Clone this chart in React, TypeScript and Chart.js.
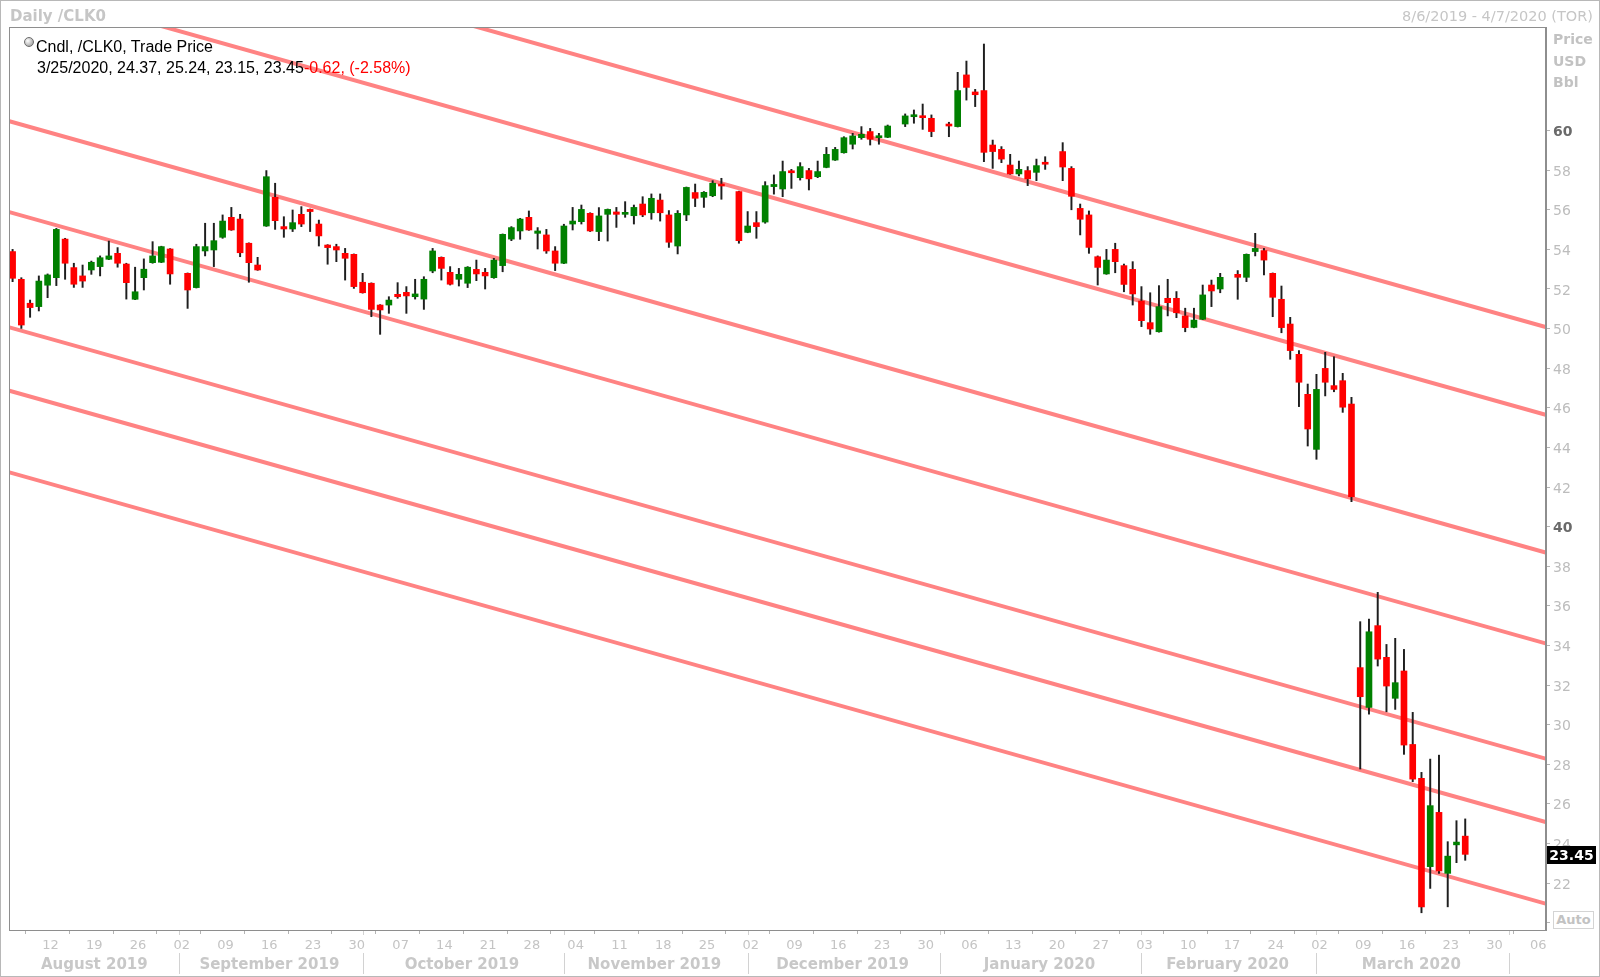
import React, { useEffect, useRef } from "react";
import { Chart, registerables } from "chart.js";

Chart.register(...registerables);

// Weekday slots counted from Tue 6 Aug 2019 (slot 0). null = exchange holiday.
const opens: (number | null)[] = [
  53.89, 52.49, 51.28, 51.11, 52.19, 52.57, 54.52, 53.08, 52.66, 52.96,
  53.13, 53.5, 53.8, 53.26, 51.48, 52.57, 53.33, 53.35, 54.02, null,
  52.79, 52.07, 53.92, 53.97, 54.61, 55.62, 55.53, 54.31, 53.21, 55.18,
  56.63, 55.15, 55.03, 55.77, 56.02, 55.28, 54.22, 54.14, 53.8, 53.75,
  52.34, 52.29, 51.19, 51.19, 51.73, 51.83, 51.61, 51.49, 52.91, 53.6,
  52.84, 52.49, 52.29, 52.99, 52.84, 52.57, 53.18, 54.52, 54.93, 55.62,
  54.81, 54.73, 53.92, 53.3, 55.28, 55.4, 55.82, 54.9, 55.77, 55.89,
  55.77, 55.7, 56.29, 55.85, 56.49, 55.74, 54.17, 55.74, 56.87, 56.63,
  56.71, 57.25, null, 56.92, 54.86, 55.35, 55.38, 57.17, 57.05, 57.94,
  57.62, 57.98, 57.67, 58.14, 58.51, 58.88, 59.31, 59.64, 59.95, 59.64,
  59.66, null, 60.33, 60.7, 60.69, 60.62, null, 60.32, 60.2, 62.81,
  61.95, 62.02, 59.27, 59.05, 58.26, 57.81, 57.98, 57.89, 58.4, null,
  58.94, 58.09, 56.07, 55.74, 53.63, 52.76, 54.0, 53.18, 52.99, 51.39,
  50.3, 49.84, 51.53, 51.53, 50.64, 50.06, 50.47, 52.2, 52.0, null,
  52.74, 52.59, 53.89, 53.94, 52.79, 51.48, 50.23, 48.7, 46.68, 43.9,
  47.99, 47.12, 47.37, 46.19, 32.88, 30.87, 35.0, 33.4, 31.33, 32.71,
  29.0, 27.29, 22.83, 25.57, 22.49, 23.93, 24.37,
];
const highs: (number | null)[] = [
  54.0, 52.57, 51.44, 52.66, 52.76, 55.06, 54.56, 53.3, 53.21, 53.41,
  53.67, 54.42, 54.09, 53.3, 53.1, 53.52, 54.39, 54.16, 54.04, null,
  52.81, 54.26, 55.32, 55.32, 55.74, 56.12, 55.77, 54.33, 53.6, 57.98,
  57.34, 55.65, 55.99, 56.16, 56.04, 55.48, 54.24, 54.26, 54.05, 53.77,
  52.79, 52.31, 51.21, 51.61, 52.32, 52.12, 52.49, 52.62, 54.05, 53.62,
  53.13, 53.04, 53.13, 53.46, 53.04, 53.55, 54.78, 55.15, 55.57, 55.94,
  55.1, 55.01, 54.14, 55.27, 56.12, 56.24, 55.85, 56.11, 56.04, 56.12,
  56.41, 56.24, 56.66, 56.8, 56.8, 55.96, 55.96, 57.15, 57.3, 56.92,
  57.47, 57.59, null, 56.94, 55.91, 55.91, 57.42, 57.76, 58.46, 58.04,
  58.38, 58.09, 58.46, 59.15, 59.15, 59.69, 59.86, 60.2, 60.11, 59.86,
  60.28, null, 60.84, 61.04, 61.34, 60.79, null, 60.42, 62.94, 63.51,
  62.08, 64.37, 59.52, 59.19, 58.8, 58.46, 58.18, 58.56, 58.68, null,
  59.39, 58.18, 56.29, 55.94, 53.67, 54.0, 54.31, 53.26, 53.38, 52.12,
  51.81, 52.17, 52.49, 51.87, 51.03, 51.03, 52.2, 52.45, 52.79, null,
  52.93, 53.77, 54.81, 54.05, 52.81, 52.15, 50.57, 48.89, 47.2, 47.69,
  48.8, 48.58, 47.74, 46.53, 35.2, 35.33, 36.68, 34.05, 34.36, 33.8,
  30.62, 27.59, 28.26, 28.46, 24.09, 25.15, 25.24,
];
const lows: (number | null)[] = [
  52.37, 50.01, 50.57, 50.89, 51.56, 52.17, 52.49, 52.08, 52.08, 52.74,
  52.66, 53.48, 53.1, 51.49, 51.46, 51.95, 53.3, 53.33, 52.24, null,
  51.02, 52.05, 53.67, 53.13, 54.56, 54.96, 53.63, 52.34, 52.94, 55.16,
  55.01, 54.61, 54.9, 55.15, 54.9, 54.17, 53.25, 53.38, 52.45, 52.03,
  51.79, 50.6, 49.71, 50.77, 51.53, 50.77, 51.49, 50.97, 52.82, 52.45,
  52.2, 52.15, 52.07, 52.42, 52.0, 52.54, 52.87, 54.44, 54.51, 54.96,
  54.02, 53.8, 52.93, 53.28, 54.98, 55.28, 54.9, 54.44, 54.42, 55.11,
  55.62, 55.28, 55.65, 55.52, 55.43, 54.1, 53.77, 55.45, 56.16, 56.12,
  56.66, 56.53, null, 54.31, 54.84, 54.56, 55.32, 56.79, 56.66, 57.08,
  57.5, 57.0, 57.62, 58.12, 58.49, 58.86, 59.07, 59.56, 59.27, 59.31,
  59.64, null, 60.2, 60.37, 60.06, 59.69, null, 59.69, 60.18, 61.54,
  61.21, 58.43, 58.09, 58.38, 57.79, 57.71, 57.22, 57.47, 58.04, null,
  57.47, 56.0, 54.73, 53.8, 52.2, 52.74, 52.82, 51.86, 51.19, 50.1,
  49.71, 49.82, 50.64, 50.55, 49.84, 50.04, 50.45, 51.11, 51.81, null,
  51.48, 52.37, 53.67, 52.71, 50.6, 49.79, 48.45, 46.06, 44.07, 43.4,
  46.6, 46.81, 45.77, 41.26, 27.76, 30.53, 32.96, 30.65, 30.77, 28.5,
  27.12, 20.5, 21.73, 22.49, 20.8, 23.03, 23.15,
];
const closes: (number | null)[] = [
  52.54, 50.18, 51.06, 52.4, 52.71, 55.01, 53.3, 52.24, 52.4, 53.35,
  53.58, 53.67, 53.3, 52.32, 51.86, 53.0, 53.67, 54.14, 52.76, null,
  51.95, 54.14, 54.14, 54.44, 55.43, 54.98, 53.83, 53.33, 52.96, 57.67,
  55.45, 55.03, 55.35, 55.28, 55.91, 54.68, 54.09, 53.97, 53.55, 52.12,
  51.81, 50.97, 50.94, 51.44, 51.61, 51.65, 51.75, 52.49, 53.92, 53.04,
  52.24, 52.74, 53.1, 52.76, 52.66, 53.46, 54.76, 55.1, 55.53, 54.98,
  54.93, 53.92, 53.3, 55.18, 55.43, 56.02, 54.93, 55.69, 56.02, 55.77,
  55.85, 56.12, 55.74, 56.58, 55.85, 54.36, 55.82, 57.13, 56.58, 56.88,
  57.34, 57.2, null, 54.44, 55.18, 55.15, 57.22, 57.28, 57.93, 57.87,
  58.18, 57.56, 57.93, 58.8, 59.05, 59.64, 59.73, 59.81, 59.56, 59.73,
  60.23, null, 60.74, 60.77, 60.65, 59.95, null, 60.23, 62.02, 62.18,
  61.81, 58.9, 58.94, 58.56, 57.81, 58.04, 57.56, 58.23, 58.3, null,
  58.16, 56.68, 55.52, 54.1, 53.09, 53.46, 53.38, 52.23, 51.75, 50.4,
  49.98, 51.11, 51.31, 50.8, 50.05, 50.43, 51.7, 51.9, 52.59, null,
  52.59, 53.75, 54.05, 53.46, 51.58, 50.05, 48.89, 47.29, 44.93, 46.93,
  47.29, 46.93, 46.03, 41.51, 31.41, 34.69, 33.31, 31.95, 32.12, 28.97,
  27.25, 20.8, 25.91, 22.61, 23.36, 24.07, 23.45,
];

// Monday day-of-month labels (first Monday = slot 4, then every 5 weekdays)
const dayTickLabels = [
  "12", "19", "26", "02", "09", "16", "23", "30", "07", "14", "21", "28",
  "04", "11", "18", "25", "02", "09", "16", "23", "30", "06", "13", "20",
  "27", "03", "10", "17", "24", "02", "09", "16", "23", "30", "06",
];
const firstMondaySlot = 4;
const monthLabels = [
  "August 2019", "September 2019", "October 2019", "November 2019",
  "December 2019", "January 2020", "February 2020", "March 2020",
];
const monthStartSlots = [0, 19, 40, 63, 84, 106, 129, 149, 171];

const yTickValues = [20, 22, 24, 26, 28, 30, 32, 34, 36, 38, 40, 42, 44, 46, 48, 50, 52, 54, 56, 58, 60];
const yTickLabels = ["", "22", "24", "26", "28", "30", "32", "34", "36", "38", "40", "42", "44", "46", "48", "50", "52", "54", "56", "58", "60"];

// Parallel channel lines: price at slot -1 and at slot 176
const channelStart = [71.94, 67.51, 60.55, 55.96, 50.14, 46.94, 42.82];
const channelEnd = [49.98, 45.55, 38.59, 34.0, 28.18, 24.98, 20.86];

const UP = "#008000";
const DOWN = "#ff0000";

const decorPlugin = {
  id: "decor",
  beforeDraw(chart: any) {
    const c = chart.ctx;
    c.save();
    c.fillStyle = "#ffffff";
    c.fillRect(0, 0, chart.width, chart.height);
    c.restore();
  },
  afterDraw(chart: any) {
    const { ctx, chartArea: a, scales } = chart;
    const xs = scales.x;
    const ys = scales.y;
    ctx.save();
    // plot frame
    ctx.strokeStyle = "#8e8e8e";
    ctx.lineWidth = 1;
    ctx.strokeRect(Math.round(a.left) + 0.5, Math.round(a.top) + 0.5, Math.round(a.right - a.left) - 1, Math.round(a.bottom - a.top));
    // window frame
    ctx.strokeStyle = "#b8b8b8";
    ctx.strokeRect(0.5, 0.5, chart.width - 1, chart.height - 1);
    // month row
    ctx.font = 'bold 15px "DejaVu Sans"';
    ctx.fillStyle = "#c8c8c8";
    ctx.textAlign = "center";
    ctx.textBaseline = "middle";
    for (let i = 0; i < monthLabels.length; i++) {
      const s = monthStartSlots[i];
      const e = monthStartSlots[i + 1] - 1;
      const x = (xs.getPixelForValue(s) + xs.getPixelForValue(e)) / 2 + 3;
      ctx.fillText(monthLabels[i], x, 965);
    }
    ctx.strokeStyle = "#d2d2d2";
    for (let i = 1; i < monthStartSlots.length; i++) {
      const x = Math.round(xs.getPixelForValue(monthStartSlots[i])) + 0.5;
      ctx.beginPath();
      ctx.moveTo(x, 953);
      ctx.lineTo(x, 974);
      ctx.moveTo(x, a.bottom + 1);
      ctx.lineTo(x, a.bottom + 5);
      ctx.stroke();
    }
    // last price box
    const last = closes[closes.length - 1] as number;
    const y = Math.round(ys.getPixelForValue(last)) + 1;
    ctx.fillStyle = "#000000";
    ctx.fillRect(a.right + 1, y - 9, 49, 18);
    ctx.fillStyle = "#ffffff";
    ctx.font = 'bold 14px "DejaVu Sans"';
    ctx.textAlign = "center";
    ctx.fillText(last.toFixed(2), a.right + 1 + 24.5, y + 1);
    ctx.restore();
  },
};

export default function App() {
  const canvasRef = useRef<HTMLCanvasElement>(null);

  useEffect(() => {
    document.body.style.margin = "0";
    const bodies: any[] = [];
    const wicks: any[] = [];
    const colors: string[] = [];
    for (let i = 0; i < opens.length; i++) {
      const o = opens[i], h = highs[i], l = lows[i], c = closes[i];
      if (o == null || h == null || l == null || c == null) continue;
      bodies.push({ x: i, y: [o, c] });
      wicks.push({ x: i, y: [l, h] });
      colors.push(c >= o ? UP : DOWN);
    }
    const lineSets = channelStart.map((v, i) => ({
      type: "line" as const,
      data: [{ x: -1, y: v }, { x: 176, y: channelEnd[i] }],
      borderColor: "#ff8383",
      borderWidth: 4,
      pointRadius: 0,
      clip: 0,
      order: 5,
    }));

    const chart = new Chart(canvasRef.current as HTMLCanvasElement, {
      type: "bar",
      data: {
        datasets: [
          ...lineSets,
          {
            type: "bar",
            data: wicks,
            backgroundColor: "#1e1e1e",
            barThickness: 1.3,
            grouped: false,
            order: 2,
          },
          {
            type: "bar",
            data: bodies,
            backgroundColor: colors,
            barThickness: 6,
            minBarLength: 2,
            grouped: false,
            order: 1,
          },
        ] as any,
      },
      options: {
        responsive: false,
        animation: false,
        events: [],
        layout: { padding: { left: 9, top: 27, right: 0, bottom: 0 } },
        plugins: { legend: { display: false }, tooltip: { enabled: false } },
        scales: {
          x: {
            type: "linear",
            min: -0.41,
            max: 175.23,
            offset: false,
            afterBuildTicks: (axis: any) => {
              axis.ticks = dayTickLabels.map((_, i) => ({ value: firstMondaySlot + 5 * i }));
            },
            afterFit: (axis: any) => {
              axis.height = 47;
            },
            grid: { display: true, drawOnChartArea: false, drawTicks: true, tickLength: 4, color: "#b4b4b4" },
            border: { display: true, color: "#8e8e8e" },
            ticks: {
              autoSkip: false,
              maxRotation: 0,
              padding: 4,
              labelOffset: 3,
              color: "#c4c4c4",
              font: { family: "DejaVu Sans", size: 13 },
              callback: (_v: any, i: number) => dayTickLabels[i],
            },
          },
          y: {
            type: "linear",
            position: "right",
            min: 19.63,
            max: 65.23,
            afterBuildTicks: (axis: any) => {
              axis.ticks = yTickValues.map((v) => ({ value: v }));
            },
            afterFit: (axis: any) => {
              axis.width = 54;
            },
            grid: { display: true, drawOnChartArea: false, drawTicks: true, tickLength: 4, color: "#b4b4b4" },
            border: { display: true, color: "#8e8e8e" },
            ticks: {
              autoSkip: false,
              padding: 3,
              labelOffset: 2,
              color: (ctx: any) => (ctx.tick && ctx.tick.value % 20 === 0 ? "#6a6a6a" : "#bdbdbd"),
              font: (ctx: any) => ({
                family: "DejaVu Sans",
                size: 14,
                weight: ctx.tick && ctx.tick.value % 20 === 0 ? "bold" : "normal",
              }),
              callback: (_v: any, i: number) => yTickLabels[i],
            },
          },
        },
      } as any,
      plugins: [decorPlugin],
    });
    return () => chart.destroy();
  }, []);

  const grey = "#c6c6c6";
  return (
    <div style={{ position: "relative", width: 1600, height: 977, background: "#fff", overflow: "hidden" }}>
      <canvas ref={canvasRef} width={1600} height={977} style={{ position: "absolute", left: 0, top: 0, width: 1600, height: 977 }} />
      <div style={{ position: "absolute", left: 10, top: 7, font: 'bold 15px "DejaVu Sans"', lineHeight: "18px", color: grey, whiteSpace: "nowrap" }}>
        Daily /CLK0
      </div>
      <div style={{ position: "absolute", right: 7, top: 7, font: '14.5px "DejaVu Sans"', lineHeight: "18px", color: grey, whiteSpace: "nowrap" }}>
        8/6/2019 - 4/7/2020 (TOR)
      </div>
      <div
        style={{
          position: "absolute", left: 24, top: 37, width: 10, height: 10, borderRadius: "50%",
          background: "radial-gradient(circle at 35% 35%, #ffffff, #8c8c8c)", border: "1px solid #6c6c6c", boxSizing: "border-box",
        }}
      />
      <div style={{ position: "absolute", left: 36, top: 37, font: '16px "Liberation Sans"', lineHeight: "19px", color: "#000", whiteSpace: "nowrap" }}>
        Cndl, /CLK0, Trade Price
      </div>
      <div style={{ position: "absolute", left: 37, top: 58, font: '16px "Liberation Sans"', lineHeight: "19px", color: "#000", whiteSpace: "nowrap" }}>
        3/25/2020, 24.37, 25.24, 23.15, 23.45<span style={{ color: "#ff0000" }}>-0.62, (-2.58%)</span>
      </div>
      <div style={{ position: "absolute", left: 1553, top: 29, font: 'bold 14px "DejaVu Sans"', lineHeight: "21.7px", color: "#c2c2c2", whiteSpace: "nowrap" }}>
        Price<br />USD<br />Bbl
      </div>
      <div
        style={{
          position: "absolute", left: 1553, top: 911, width: 41, height: 18, boxSizing: "border-box",
          border: "1px solid #d4d4d4", font: 'bold 13px "DejaVu Sans"', lineHeight: "16px", color: "#c2c2c2", textAlign: "center", background: "#fff",
        }}
      >
        Auto
      </div>
    </div>
  );
}
